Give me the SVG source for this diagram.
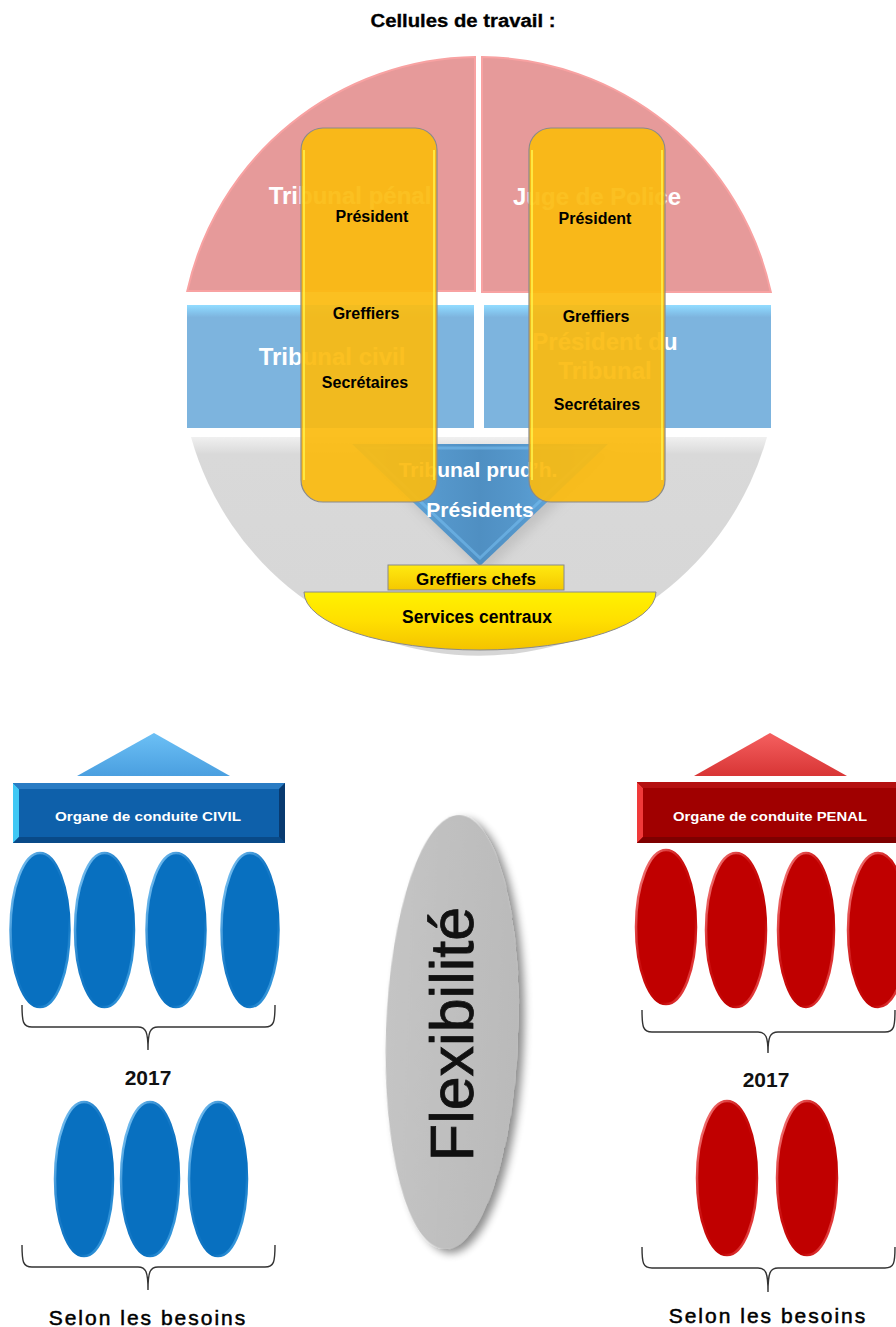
<svg xmlns="http://www.w3.org/2000/svg" width="896" height="1327" viewBox="0 0 896 1327">
<style>
.t{font-family:"Liberation Sans",Arial,sans-serif;font-weight:bold;text-anchor:middle}
.wl{fill:#ffffff;font-size:24px}
.bk{fill:#000000;font-size:16px}
.org{fill:#ffffff;font-size:13px}
.brace{fill:none;stroke:#333333;stroke-width:1.4}
.be{fill:#0870c0;stroke:url(#bRim);stroke-width:2.5}
.re{fill:#c00000;stroke:url(#rRim);stroke-width:2.5}
.cell{fill:#fbbb0e;fill-opacity:0.92;stroke:#8a8a8a;stroke-width:1.2}
.cellhl{fill:none;stroke:#fff24a;stroke-width:2;stroke-opacity:0.8}
</style>
<defs>
<linearGradient id="blueBand" x1="0" y1="0" x2="0" y2="1">
<stop offset="0" stop-color="#92dcff"/><stop offset="0.05" stop-color="#86c8f0"/><stop offset="0.1" stop-color="#7db4de"/><stop offset="1" stop-color="#7db4de"/>
</linearGradient>
<linearGradient id="grayG" x1="0" y1="0" x2="0" y2="1">
<stop offset="0" stop-color="#f0f0f0"/><stop offset="0.08" stop-color="#d9d9d9"/><stop offset="1" stop-color="#d6d6d6"/>
</linearGradient>
<linearGradient id="triG" x1="0" y1="0" x2="1" y2="0">
<stop offset="0" stop-color="#6ab6ee"/><stop offset="0.35" stop-color="#5597cb"/><stop offset="0.5" stop-color="#4f8fc2"/><stop offset="0.65" stop-color="#5597cb"/><stop offset="1" stop-color="#6ab6ee"/>
</linearGradient>
<linearGradient id="gcG" x1="0" y1="0" x2="0" y2="1">
<stop offset="0" stop-color="#ffea10"/><stop offset="1" stop-color="#f5c800"/>
</linearGradient>
<linearGradient id="scG" x1="0" y1="0" x2="0" y2="1">
<stop offset="0" stop-color="#fff200"/><stop offset="0.5" stop-color="#ffdf00"/><stop offset="1" stop-color="#f4c300"/>
</linearGradient>
<linearGradient id="bRim" x1="0" y1="0" x2="1" y2="1">
<stop offset="0" stop-color="#9ad8ff"/><stop offset="0.4" stop-color="#1a7cc8"/><stop offset="0.7" stop-color="#0870c0"/><stop offset="1" stop-color="#5db8f2"/>
</linearGradient>
<linearGradient id="rRim" x1="0" y1="0" x2="1" y2="1">
<stop offset="0" stop-color="#ff9a9a"/><stop offset="0.4" stop-color="#cc1010"/><stop offset="0.7" stop-color="#c00000"/><stop offset="1" stop-color="#ff7070"/>
</linearGradient>
<linearGradient id="bTri" x1="0" y1="0" x2="0" y2="1">
<stop offset="0" stop-color="#6cc0f5"/><stop offset="1" stop-color="#4a9fe0"/>
</linearGradient>
<linearGradient id="rTri" x1="0" y1="0" x2="0" y2="1">
<stop offset="0" stop-color="#f56060"/><stop offset="1" stop-color="#d83535"/>
</linearGradient>
<linearGradient id="grayEl" x1="0" y1="0" x2="1" y2="0">
<stop offset="0" stop-color="#c4c4c4"/><stop offset="1" stop-color="#bababa"/>
</linearGradient>
<filter id="shadow" x="-30%" y="-10%" width="160%" height="120%">
<feGaussianBlur in="SourceAlpha" stdDeviation="4"/>
<feOffset dx="6" dy="4" result="b"/>
<feComponentTransfer><feFuncA type="linear" slope="0.45"/></feComponentTransfer>
<feMerge><feMergeNode/><feMergeNode in="SourceGraphic"/></feMerge>
</filter>
<filter id="soft" x="-20%" y="-20%" width="140%" height="140%">
<feGaussianBlur stdDeviation="6"/>
</filter>
</defs>

<rect width="896" height="1327" fill="#ffffff"/>

<g id="title">
<text class="t" x="463" y="27" font-size="18" textLength="185" lengthAdjust="spacingAndGlyphs" stroke="#000" stroke-width="0.3">Cellules de travail :</text>
</g>

<g id="tribunal-penal">
<path d="M187.3,291 A299,299 0 0 1 475,57 L475,291 Z" fill="#e69a9a" stroke="#f8a2a2" stroke-width="2"/>
<text class="t wl" x="350" y="204">Tribunal pénal</text>
</g>
<g id="juge-police">
<path d="M482,57 A299,299 0 0 1 770.8,292 L482,292 Z" fill="#e69a9a" stroke="#f8a2a2" stroke-width="2"/>
<text class="t wl" x="597" y="205">Juge de Police</text>
</g>
<g id="tribunal-civil">
<rect x="187" y="305" width="287" height="123" fill="url(#blueBand)"/>
<text class="t wl" x="332" y="365">Tribunal civil</text>
</g>
<g id="president-tribunal">
<rect x="484" y="305" width="287" height="123" fill="url(#blueBand)"/>
<text class="t wl" x="605" y="350">Président du</text>
<text class="t wl" x="605" y="379">Tribunal</text>
</g>
<g id="tribunal-prudh">
<path d="M767,437 A299,299 0 0 1 191,437 Z" fill="url(#grayG)"/>
<polygon points="360,452 612,452 484,574" fill="#9a9a9a" opacity="0.35" filter="url(#soft)"/>
<polygon points="352,444 608,444 480,566" fill="url(#triG)"/>
<polygon points="364,448 596,448 480,558" fill="none" stroke="#7cc4f5" stroke-width="3" stroke-opacity="0.5"/>
<text class="t" x="478" y="477" font-size="21" fill="#ffffff">Tribunal prud’h.</text>
<text class="t" x="480" y="517" font-size="21" fill="#ffffff">Présidents</text>
</g>

<g id="cellule-1">
<rect class="cell" x="301" y="128" width="136" height="374" rx="22"/>
<path class="cellhl" d="M304,150 V480 M434,150 V480"/>
<text class="t bk" x="372" y="222">Président</text>
<text class="t bk" x="366" y="319">Greffiers</text>
<text class="t bk" x="365" y="388">Secrétaires</text>
</g>
<g id="cellule-2">
<rect class="cell" x="529" y="128" width="136" height="374" rx="22"/>
<path class="cellhl" d="M532,150 V480 M662,150 V480"/>
<text class="t bk" x="595" y="224">Président</text>
<text class="t bk" x="596" y="322">Greffiers</text>
<text class="t bk" x="597" y="410">Secrétaires</text>
</g>

<g id="greffiers-chefs">
<rect x="388" y="565" width="176" height="25" fill="url(#gcG)" stroke="#8a8a8a" stroke-width="1"/>
<text class="t" x="476" y="585" font-size="17" fill="#000000">Greffiers chefs</text>
</g>
<g id="services-centraux">
<path d="M304,592 H656 A176,58 0 0 1 304,592 Z" fill="url(#scG)" stroke="#8a8a8a" stroke-width="1"/>
<text class="t" x="477" y="623" font-size="17.5" fill="#000000">Services centraux</text>
</g>

<g id="civil-triangle">
<polygon points="154,733 230,776 77,776" fill="url(#bTri)"/>
</g>
<g id="organe-civil">
<rect x="13" y="783" width="272" height="60" fill="#0e60aa"/>
<polygon points="13,783 19,789 19,837 13,843" fill="#40c8f5"/>
<polygon points="13,783 285,783 279,789 19,789" fill="#2a7cc4"/>
<polygon points="13,843 19,837 279,837 285,843" fill="#094a88"/>
<polygon points="285,783 285,843 279,837 279,789" fill="#083a70"/>
<text class="t org" x="148" y="821" textLength="186" lengthAdjust="spacingAndGlyphs">Organe de conduite CIVIL</text>
</g>
<g id="civil-cellules-actuelles">
<ellipse class="be" cx="40" cy="930" rx="29.5" ry="77"/>
<ellipse class="be" cx="104.5" cy="930" rx="29.5" ry="77"/>
<ellipse class="be" cx="176" cy="930" rx="29.5" ry="77"/>
<ellipse class="be" cx="250" cy="930" rx="28.5" ry="77"/>
</g>
<g id="civil-2017">
<text class="t" x="148" y="1085" font-size="21" fill="#111111">2017</text>
<ellipse class="be" cx="84" cy="1179" rx="29" ry="77"/>
<ellipse class="be" cx="150" cy="1179" rx="29" ry="77"/>
<ellipse class="be" cx="218" cy="1179" rx="29" ry="77"/>
</g>
<g id="civil-besoins">
<text x="148" y="1325" font-family="'Liberation Sans',Arial,sans-serif" font-size="21" text-anchor="middle" fill="#000000" stroke="#000000" stroke-width="0.5" letter-spacing="2">Selon les besoins</text>
</g>

<g id="flexibilite">
<ellipse cx="452" cy="1032" rx="66" ry="217" fill="url(#grayEl)" transform="rotate(2 452 1032)" filter="url(#shadow)"/>
<text transform="translate(473,1034) rotate(-90)" x="0" y="0" font-family="'Liberation Sans',Arial,sans-serif" font-size="61" text-anchor="middle" fill="#111111" stroke="#111111" stroke-width="0.8">Flexibilité</text>
</g>

<g id="penal-triangle">
<polygon points="770,733 847,776 694,776" fill="url(#rTri)"/>
</g>
<g id="organe-penal">
<rect x="637" y="782" width="262" height="61" fill="#a00000"/>
<polygon points="637,782 643,788 643,837 637,843" fill="#f03a3a"/>
<polygon points="637,782 899,782 899,788 643,788" fill="#b41010"/>
<polygon points="637,843 643,837 899,837 899,843" fill="#7e0000"/>
<text class="t org" x="770" y="821" textLength="194" lengthAdjust="spacingAndGlyphs">Organe de conduite PENAL</text>
</g>
<g id="penal-cellules-actuelles">
<ellipse class="re" cx="666" cy="927" rx="30" ry="77"/>
<ellipse class="re" cx="736" cy="930" rx="30" ry="77"/>
<ellipse class="re" cx="806" cy="930" rx="28" ry="77"/>
<ellipse class="re" cx="878" cy="930" rx="30" ry="77"/>
</g>
<g id="penal-2017">
<text class="t" x="766" y="1087" font-size="21" fill="#111111">2017</text>
<ellipse class="re" cx="727" cy="1178" rx="30" ry="77"/>
<ellipse class="re" cx="807" cy="1178" rx="30" ry="77"/>
</g>
<g id="penal-besoins">
<text x="768" y="1323" font-family="'Liberation Sans',Arial,sans-serif" font-size="21" text-anchor="middle" fill="#000000" stroke="#000000" stroke-width="0.5" letter-spacing="2">Selon les besoins</text>
</g>

<g id="connectors">
<path class="brace" d="M22,1005 C22,1022 23,1027 32,1027 L138,1027 C146,1027 148,1032 148,1050 C148,1032 150,1027 158,1027 L265,1027 C274,1027 275,1022 275,1005"/>
<path class="brace" d="M22,1245 C22,1262 23,1267 32,1267 L138,1267 C146,1267 148,1272 148,1290 C148,1272 150,1267 158,1267 L265,1267 C274,1267 275,1262 275,1245"/>
<path class="brace" d="M642,1010 C642,1027 643,1032 652,1032 L758,1032 C766,1032 768,1037 768,1053 C768,1037 770,1032 778,1032 L885,1032 C894,1032 895,1027 895,1010"/>
<path class="brace" d="M642,1247 C642,1263 643,1268 652,1268 L758,1268 C766,1268 768,1273 768,1292 C768,1273 770,1268 778,1268 L885,1268 C894,1268 895,1263 895,1247"/>
</g>
</svg>
